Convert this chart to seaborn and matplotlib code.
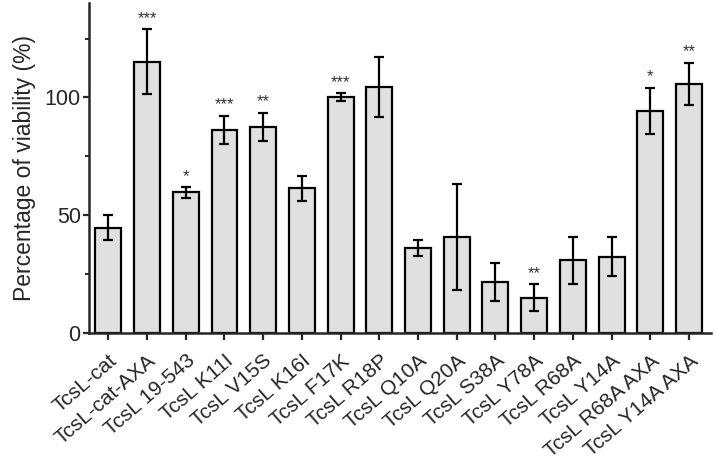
import matplotlib
matplotlib.use("Agg")
import matplotlib.pyplot as plt
import seaborn as sns
import pandas as pd
import numpy as np
from matplotlib.ticker import MultipleLocator

categories = ["TcsL-cat", "TcsL-cat-AXA", "TcsL 19-543", "TcsL K11I", "TcsL V15S",
              "TcsL K16I", "TcsL F17K", "TcsL R18P", "TcsL Q10A", "TcsL Q20A",
              "TcsL S38A", "TcsL Y78A", "TcsL R68A", "TcsL Y14A", "TcsL R68A AXA",
              "TcsL Y14A AXA"]
viability = [44.7, 115.2, 59.7, 86.1, 87.5, 61.4, 100.1, 104.4, 36.0, 40.7,
             21.6, 14.9, 30.9, 32.3, 94.2, 105.7]
sd = [5.2, 13.8, 2.2, 6.0, 6.0, 5.4, 1.7, 12.8, 3.3, 22.6,
      8.0, 5.7, 9.9, 8.3, 9.8, 9.0]
stars = ["", "***", "*", "***", "**", "", "***", "", "", "", "", "**", "", "", "*", "**"]

df = pd.DataFrame({"construct": categories, "viability": viability})

sns.set_style("ticks")
plt.rcParams["font.family"] = ["Liberation Sans", "DejaVu Sans"]

fig = plt.figure(figsize=(7.15, 4.71), dpi=100)
ax = fig.add_axes([0.1245, 0.293, 0.87, 0.70])

sns.barplot(data=df, x="construct", y="viability", order=categories,
            color="#e0e0e0", edgecolor="black", linewidth=1.6, width=0.67,
            errorbar=None, ax=ax, saturation=1)

x = np.arange(len(categories))
ax.errorbar(x, viability, yerr=sd, fmt="none", ecolor="black", elinewidth=1.6,
            capsize=3.5, capthick=1.6, zorder=5)

for xi, v, s, st in zip(x, viability, sd, stars):
    if st:
        ax.text(xi, v + s + 1.5, st, ha="center", va="bottom", fontsize=12,
                color="#333333")

ax.set_xlim(-0.5, 15.57)
ax.set_ylim(0, 140)
ax.yaxis.set_major_locator(MultipleLocator(50))
ax.yaxis.set_minor_locator(MultipleLocator(25))
ax.set_ylabel("Percentage of viability (%)", fontsize=16.5, labelpad=6)
ax.set_xlabel("")
ax.tick_params(axis="y", which="major", labelsize=15.5, width=1.6, length=4.5, pad=1.5)
ax.tick_params(axis="y", which="minor", width=1.4, length=3)
ax.tick_params(axis="x", labelsize=15, width=1.6, length=5, pad=8)
plt.setp(ax.get_xticklabels(), rotation=41, ha="right", rotation_mode="anchor")
for sp in ["left", "bottom"]:
    ax.spines[sp].set_linewidth(1.8)
sns.despine(ax=ax)

fig.savefig("out.png", dpi=100)
